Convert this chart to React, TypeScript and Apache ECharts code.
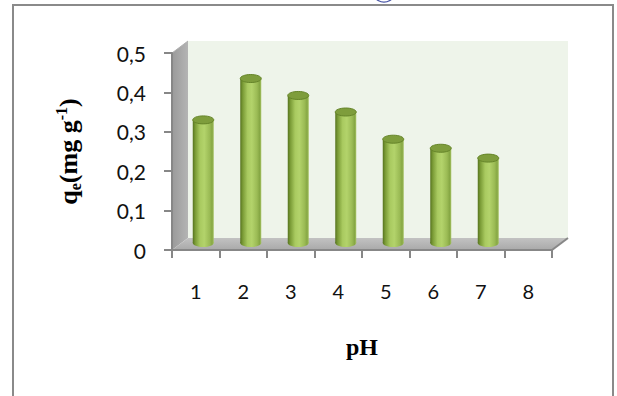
import React, { useEffect, useRef } from "react";
import * as echarts from "echarts";

const categories = ["1", "2", "3", "4", "5", "6", "7", "8"];
const qeValues: (number | null)[] = [0.315, 0.42, 0.377, 0.335, 0.266, 0.243, 0.218, null];
const yTicks = { min: 0, max: 0.5, interval: 0.1 };

const GRID = { left: 172, top: 53, width: 380, height: 197 };
const DX = 16;
const DY = -12;

export default function App() {
  const ref = useRef<HTMLDivElement>(null);
  useEffect(() => {
    if (!ref.current) return;
    const chart = echarts.init(ref.current, null, { renderer: "svg" });
    const L = GRID.left, T = GRID.top, R = GRID.left + GRID.width, B = GRID.top + GRID.height;
    const barData = qeValues
      .map((v, i) => (v == null ? null : [i, v]))
      .filter((d) => d !== null);
    const cylFill = new echarts.graphic.LinearGradient(0, 0, 1, 0, [
      { offset: 0, color: "#56731f" },
      { offset: 0.12, color: "#7a9b36" },
      { offset: 0.35, color: "#a9ca60" },
      { offset: 0.55, color: "#b3d36b" },
      { offset: 0.8, color: "#9bbb55" },
      { offset: 0.92, color: "#86a744" },
      { offset: 1, color: "#a5c263" },
    ]);
    chart.setOption({
      animation: false,
      backgroundColor: "#ffffff",
      grid: { left: L, top: T, width: GRID.width, height: GRID.height, containLabel: false },
      xAxis: {
        type: "category",
        data: categories,
        boundaryGap: true,
        name: "pH",
        nameLocation: "middle",
        nameGap: 85,
        nameTextStyle: { fontFamily: "Liberation Serif", fontWeight: "bold", fontSize: 24, color: "#000" },
        axisLine: { show: true, lineStyle: { color: "#878787", width: 2 } },
        axisTick: { show: true, length: 8, lineStyle: { color: "#878787", width: 2 }, alignWithLabel: false },
        axisLabel: { margin: 31, fontFamily: "Lato", fontSize: 20, color: "#111" },
        splitLine: { show: false },
        z: 5,
      },
      yAxis: {
        type: "value",
        min: yTicks.min,
        max: yTicks.max,
        interval: yTicks.interval,
        name: "{b|q}{s|e}{b|(mg g}{p|-1}{b|)}",
        nameLocation: "middle",
        nameRotate: 90,
        nameGap: 89,
        nameTextStyle: {
          rich: {
            b: { fontFamily: "Liberation Serif", fontWeight: "bold", fontSize: 26, color: "#000", lineHeight: 30 },
            s: { fontFamily: "Liberation Serif", fontWeight: "bold", fontSize: 16, color: "#000", lineHeight: 16, verticalAlign: "bottom" },
            p: { fontFamily: "Liberation Serif", fontWeight: "bold", fontSize: 16, color: "#000", lineHeight: 16, verticalAlign: "top" },
          },
        },
        axisLine: { show: true, lineStyle: { color: "#878787", width: 2 } },
        axisTick: { show: true, length: 8, lineStyle: { color: "#878787", width: 2 } },
        axisLabel: {
          margin: 26,
          fontFamily: "Lato",
          fontSize: 21,
          color: "#111",
          formatter: (v: number) => (v === 0 ? "0" : v.toFixed(1).replace(".", ",")),
        },
        splitLine: { show: false },
        z: 5,
      },
      graphic: [
        {
          type: "rect",
          shape: { x: 13, y: 5, width: 600, height: 410 },
          style: { fill: "none", stroke: "#8a8a8a", lineWidth: 2 },
          z: 0,
        },
        {
          type: "circle",
          shape: { cx: 384, cy: -10, r: 12 },
          style: { fill: "none", stroke: "#4a56a6", lineWidth: 1.2 },
          z: 0,
        },
        {
          type: "polygon",
          shape: { points: [[L + DX, T + DY], [R + DX, T + DY], [R + DX, B + DY], [L + DX, B + DY]] },
          style: { fill: "#eef4ea" },
          z: 0,
        },
        {
          type: "polygon",
          shape: { points: [[L, B], [L, T], [L + DX, T + DY], [L + DX, B + DY]] },
          style: {
            fill: new echarts.graphic.LinearGradient(0, 0, 1, 0, [
              { offset: 0, color: "#9a9a9a" },
              { offset: 1, color: "#b4b4b4" },
            ]),
          },
          z: 0,
        },
        {
          type: "polygon",
          shape: { points: [[L, B], [R, B], [R + DX, B + DY], [L + DX, B + DY]] },
          style: {
            fill: new echarts.graphic.LinearGradient(0, 0, 0, 1, [
              { offset: 0, color: "#c2c2c2" },
              { offset: 1, color: "#a9a9a9" },
            ]),
          },
          z: 0,
        },
        {
          type: "line",
          shape: { x1: R, y1: B, x2: R + DX, y2: B + DY },
          style: { stroke: "#878787", lineWidth: 2 },
          z: 4,
        },
        {
          type: "line",
          shape: { x1: L, y1: T, x2: L + DX, y2: T + DY },
          style: { stroke: "#b0b0b0", lineWidth: 1 },
          z: 1,
        },
      ],
      series: [
        {
          type: "custom",
          data: barData,
          encode: { x: 0, y: 1 },
          z: 3,
          renderItem: (params: any, api: any) => {
            const idx = api.value(0);
            const v = api.value(1);
            const pTop = api.coord([idx, v]);
            const pBot = api.coord([idx, 0]);
            const bw = 21;
            const cx = pTop[0] + DX / 2 - 0.5;
            const top = pTop[1] + DY / 2;
            const bot = pBot[1] + DY / 2 - 1;
            const ry = 4;
            return {
              type: "group",
              children: [
                { type: "ellipse", shape: { cx, cy: bot, rx: bw / 2, ry }, style: { fill: cylFill } },
                { type: "rect", shape: { x: cx - bw / 2, y: top, width: bw, height: bot - top }, style: { fill: cylFill } },
                {
                  type: "ellipse",
                  shape: { cx, cy: top, rx: bw / 2, ry },
                  style: { fill: "#7e9d3c", stroke: "#66852a", lineWidth: 1 },
                },
              ],
            };
          },
        },
      ],
    });
    return () => chart.dispose();
  }, []);
  return <div ref={ref} style={{ position: "fixed", left: 0, top: 0, width: 617, height: 396 }} />;
}
